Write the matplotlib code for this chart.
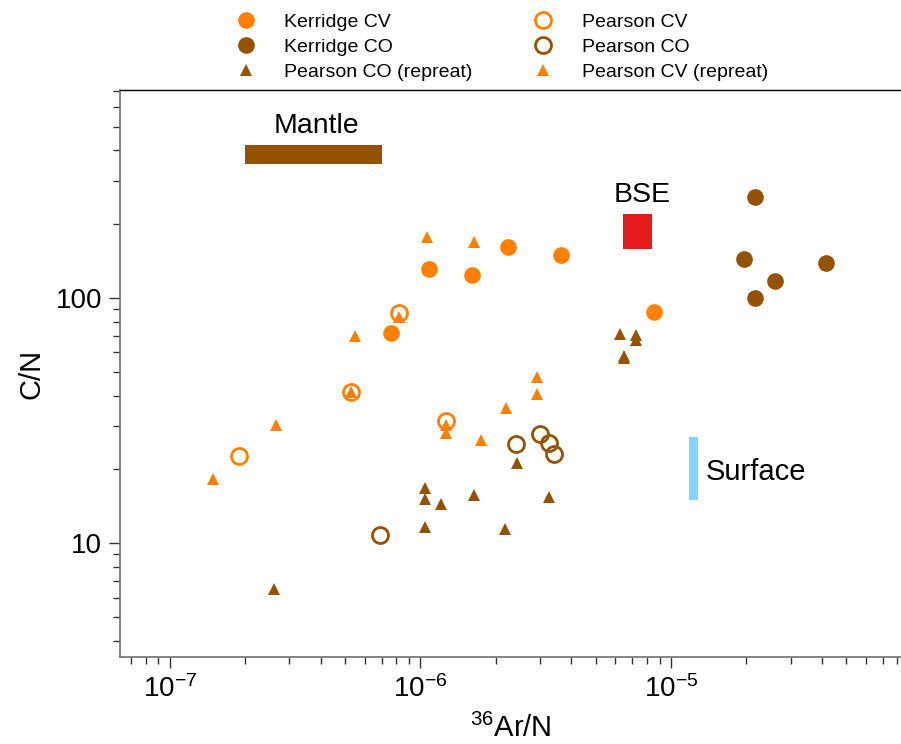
import numpy as np
import matplotlib
matplotlib.use('Agg')
import matplotlib.pyplot as plt
from matplotlib.ticker import LogLocator, NullFormatter

plt.rcParams['font.family'] = ['Liberation Sans', 'DejaVu Sans']
plt.rcParams['mathtext.fontset'] = 'custom'
plt.rcParams['mathtext.rm'] = 'Liberation Sans'
plt.rcParams['mathtext.it'] = 'Liberation Sans:italic'
plt.rcParams['mathtext.bf'] = 'Liberation Sans:bold'
plt.rcParams['mathtext.sf'] = 'Liberation Sans'

# data: 36Ar/N and C/N
kerridge_cv_ar = [1.08e-6, 1.60e-6, 7.6e-7, 2.23e-6, 3.64e-6, 8.55e-6]
kerridge_cv_cn = [132, 124, 72, 161, 150, 88]
kerridge_co_ar = [2.16e-5, 1.96e-5, 4.16e-5, 2.60e-5, 2.16e-5]
kerridge_co_cn = [259, 145, 139, 117, 100]

pearson_cv_ar = [8.2e-7, 5.26e-7, 1.26e-6, 1.89e-7]
pearson_cv_cn = [87, 41.5, 31.6, 22.6]
pearson_co_ar = [6.9e-7, 2.41e-6, 3.0e-6, 3.26e-6, 3.41e-6]
pearson_co_cn = [10.8, 25.3, 28.0, 25.7, 23.0]

pearson_co_rep_ar = [6.26e-6, 7.25e-6, 7.25e-6, 6.51e-6, 6.51e-6, 2.42e-6, 1.04e-6,
                     1.04e-6, 1.21e-6, 1.63e-6, 3.26e-6, 1.04e-6, 2.17e-6, 2.60e-7]
pearson_co_rep_cn = [71.3, 70.6, 67.4, 58, 57, 21.3, 16.8,
                     15.1, 14.4, 15.7, 15.4, 11.65, 11.4, 6.5]
pearson_cv_rep_ar = [1.06e-6, 1.64e-6, 5.47e-7, 8.2e-7, 5.26e-7, 1.26e-6, 1.26e-6,
                     2.65e-7, 1.75e-6, 2.91e-6, 2.91e-6, 2.19e-6, 1.48e-7]
pearson_cv_rep_cn = [177, 170, 70, 84, 41.5, 30.3, 28.2,
                     30.3, 26.3, 47.7, 40.5, 35.5, 18.2]

# reservoir ranges
mantle_ar = [2e-7, 7e-7]
mantle_cn = [352, 421]
bse_ar = [6.45e-6, 8.4e-6]
bse_cn = [158, 220]
surface_ar = [1.18e-5, 1.28e-5]
surface_cn = [15, 27]

orange = '#FF8000'
brown = '#955200'

fig = plt.figure(figsize=(9.01, 7.44), dpi=100)
ax = fig.add_axes([0.1332, 0.1169, 0.8668, 0.7621])
ax.set_xscale('log')
ax.set_yscale('log')
ax.set_xlim(6.32e-8, 8.28e-5)
ax.set_ylim(3.43, 706)

# reservoirs
ax.fill_between(mantle_ar, mantle_cn[0], mantle_cn[1], color=brown, lw=0)
ax.fill_between(bse_ar, bse_cn[0], bse_cn[1], color='#E41A1C', lw=0)
ax.fill_between(surface_ar, surface_cn[0], surface_cn[1], color='#80D4FF', lw=0)
ax.text(3.83e-7, 505, 'Mantle', fontsize=20.5, ha='center', va='center')
ax.text(7.64e-6, 263, 'BSE', fontsize=20.5, ha='center', va='center')
ax.text(1.38e-5, 19.5, 'Surface', fontsize=21, ha='left', va='center')

h_kcv, = ax.plot(kerridge_cv_ar, kerridge_cv_cn, 'o', color=orange, ms=12, mew=0,
                 label='Kerridge CV')
h_kco, = ax.plot(kerridge_co_ar, kerridge_co_cn, 'o', color=brown, ms=12, mew=0,
                 label='Kerridge CO')
h_pcv, = ax.plot(pearson_cv_ar, pearson_cv_cn, 'o', mfc='none', mec=orange, ms=11.5, mew=2,
                 label='Pearson CV')
h_pco, = ax.plot(pearson_co_ar, pearson_co_cn, 'o', mfc='none', mec=brown, ms=11.5, mew=2,
                 label='Pearson CO')
h_pcor, = ax.plot(pearson_co_rep_ar, pearson_co_rep_cn, '^', color=brown, ms=9, mew=0,
                  label='Pearson CO (repreat)')
h_pcvr, = ax.plot(pearson_cv_rep_ar, pearson_cv_rep_cn, '^', color=orange, ms=9, mew=0,
                  label='Pearson CV (repreat)')

# axes styling
ax.spines['right'].set_visible(False)
ax.spines['top'].set_color('black')
ax.spines['top'].set_linewidth(1.0)
for s in ['left', 'bottom']:
    ax.spines[s].set_color('#707070')
    ax.spines[s].set_linewidth(1.2)

ax.xaxis.set_major_locator(LogLocator(base=10, numticks=10))
ax.xaxis.set_minor_locator(LogLocator(base=10, subs=np.arange(2, 10), numticks=10))
ax.yaxis.set_minor_locator(LogLocator(base=10, subs=np.arange(2, 10), numticks=10))
ax.yaxis.set_minor_formatter(NullFormatter())
ax.yaxis.set_major_formatter(plt.FuncFormatter(lambda v, p: f'{v:g}'))
ax.tick_params(which='major', direction='out', length=8, width=1.0, labelsize=20,
               pad=5, color='#333333', top=False, right=False)
ax.tick_params(which='minor', direction='out', length=5, width=1.0, color='#333333',
               top=False, right=False)

ax.set_xlabel(r'$^{36}$Ar/N', fontsize=21, labelpad=8)
ax.set_ylabel('C/N', fontsize=21, labelpad=7)

handles = [h_kcv, h_kco, h_pcor, h_pcv, h_pco, h_pcvr]
fig.legend(handles=handles, ncol=2, loc='center', bbox_to_anchor=(0.557, 0.937),
           frameon=False, fontsize=14, handlelength=1.0, handletextpad=1.5,
           columnspacing=3.1, labelspacing=0.38, markerscale=1.0)

fig.savefig('out.png', dpi=100)
